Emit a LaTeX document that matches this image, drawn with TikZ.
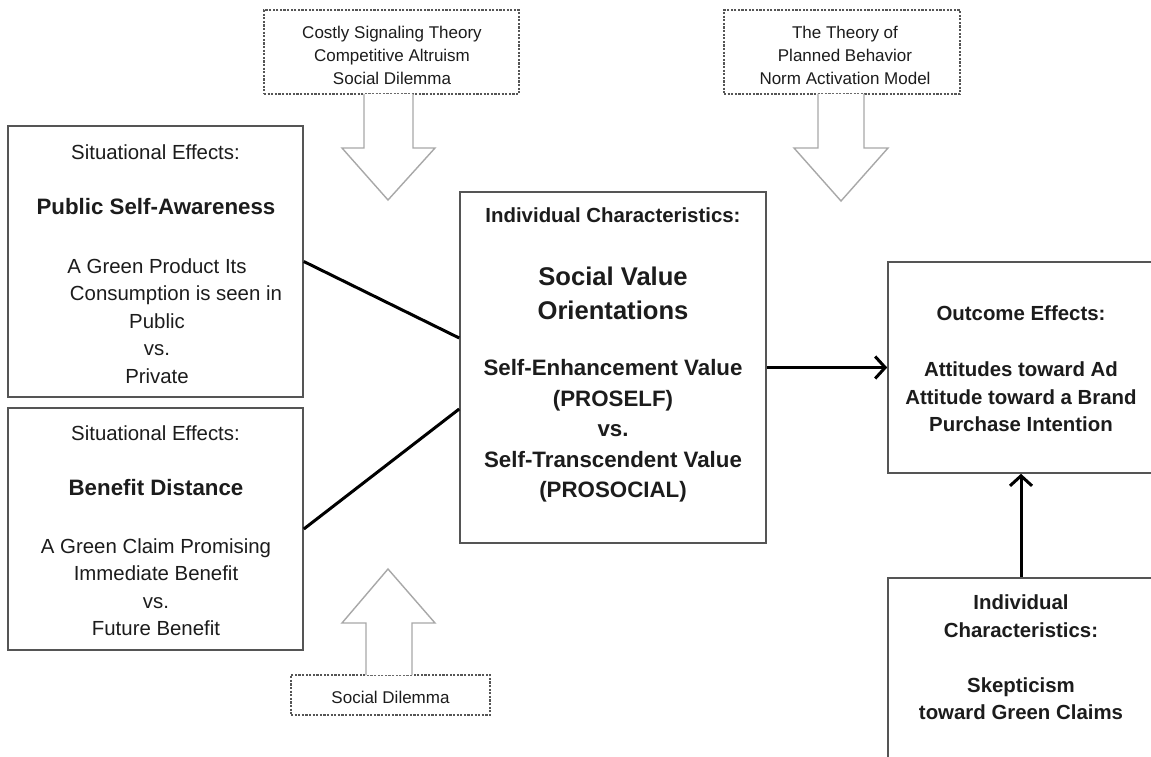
\documentclass[tikz,border=0pt]{standalone}
\usepackage{fontspec}
\setmainfont{Liberation Sans}
\usetikzlibrary{arrows.meta}
\definecolor{boxgray}{HTML}{555555}
\definecolor{arrowgray}{HTML}{A8A8A8}
\definecolor{textgray}{HTML}{1C1C1C}
\newcommand{\fsmall}{\fontsize{17}{23}\selectfont}
\newcommand{\fnorm}{\fontsize{20.4}{27.5}\selectfont}
\newcommand{\fhead}{\fontsize{22.3}{30.5}\selectfont\bfseries}
\newcommand{\fbig}{\fontsize{25.6}{34}\selectfont\bfseries}
\begin{document}
\begin{tikzpicture}[x=1pt,y=-1pt,
    box/.style={draw=boxgray,line width=1.6pt,inner sep=0pt,rectangle},
    theorybox/.style={draw=boxgray,line width=1.1pt,dash pattern=on 2.2pt off 1.4pt,inner sep=0pt,rectangle},
    txt/.style={text=textgray,align=center,inner sep=0pt},
    blockarrow/.style={draw=arrowgray,line width=1.4pt,fill=white,line join=miter},
    link/.style={black,line width=3pt},
    flow/.style={black,line width=3pt,-{Straight Barb[length=10pt,width=22pt]}}]
    \useasboundingbox (0,0) rectangle (1151,757);
    \fill[white] (0,0) rectangle (1151,757);
    \clip (0,0) rectangle (1151,757);

    % theory boxes
    \node[theorybox,minimum width=255pt,minimum height=84pt] (th1) at (391.5,52) {};
    \node[txt,font=\fsmall] (th1t) at (392,55) {Costly Signaling Theory\\Competitive Altruism\\Social Dilemma};
    \node[theorybox,minimum width=236pt,minimum height=84pt] (th2) at (842,52) {};
    \node[txt,font=\fsmall] (th2t) at (845,55) {The Theory of\\Planned Behavior\\Norm Activation Model};
    \node[theorybox,minimum width=199pt,minimum height=40pt] (th3) at (390.5,695) {};
    \node[txt,font=\fsmall] (th3t) at (390.5,697) {Social Dilemma};

    % block arrows
    \draw[blockarrow] (364,94) -- (364,148) -- (342,148) -- (388,200) -- (435,148) -- (413,148) -- (413,94);
    \draw[blockarrow] (818,94) -- (818,148) -- (794,148) -- (841,201) -- (888,148) -- (864,148) -- (864,94);
    \draw[blockarrow] (366,675) -- (366,623) -- (342,623) -- (388,569) -- (435,623) -- (412,623) -- (412,675);

    % situational effects
    \node[box,minimum width=295pt,minimum height=271pt] (pub) at (155.5,261.5) {};
    \node[txt,font=\fnorm] (pubt) at (155.5,152) {Situational Effects:};
    \node[txt,font=\fhead] (pubh) at (156,207) {Public Self-Awareness};
    \node[txt,font=\fnorm] (pubd) at (157,321) {A Green Product Its\\\hspace*{38pt}Consumption is seen in\\Public\\vs.\\Private};

    \node[box,minimum width=295pt,minimum height=242pt] (ben) at (155.5,529) {};
    \node[txt,font=\fnorm] (bent) at (155.5,433) {Situational Effects:};
    \node[txt,font=\fhead] (benh) at (156,488) {Benefit Distance};
    \node[txt,font=\fnorm] (bend) at (156,587) {A Green Claim Promising\\Immediate Benefit\\vs.\\Future Benefit};

    % individual characteristics
    \node[box,minimum width=306pt,minimum height=351pt] (svo) at (613,367.5) {};
    \node[txt,font=\fnorm\bfseries] (svot) at (613,215) {Individual Characteristics:};
    \node[txt,font=\fbig] (svoh) at (613,293) {Social Value\\Orientations};
    \node[txt,font=\fhead] (svod) at (613,431) {Self-Enhancement Value\\(PROSELF)\\vs.\\Self-Transcendent Value\\(PROSOCIAL)};

    % outcome effects
    \node[box,minimum width=266pt,minimum height=211pt] (out) at (1021,367.5) {};
    \node[txt,font=\fnorm\bfseries] (outt) at (1021,313) {Outcome Effects:};
    \node[txt,font=\fnorm\bfseries] (outd) at (1021,397) {Attitudes toward Ad\\Attitude toward a Brand\\Purchase Intention};

    \node[box,minimum width=266pt,minimum height=222pt] (skep) at (1021,689) {};
    \node[txt,font=\fnorm\bfseries] (skept) at (1021,616) {Individual\\Characteristics:};
    \node[txt,font=\fnorm\bfseries] (skeph) at (1021,698.5) {Skepticism\\toward Green Claims};

    % connectors
    \draw[link] (pub.east) -- ([yshift=29.5pt]svo.west);
    \draw[link] (ben.east) -- ([yshift=-41.5pt]svo.west);
    \draw[flow] (svo.east) -- (out.west);
    \draw[flow] (skep.north) -- (out.south);
\end{tikzpicture}
\end{document}
